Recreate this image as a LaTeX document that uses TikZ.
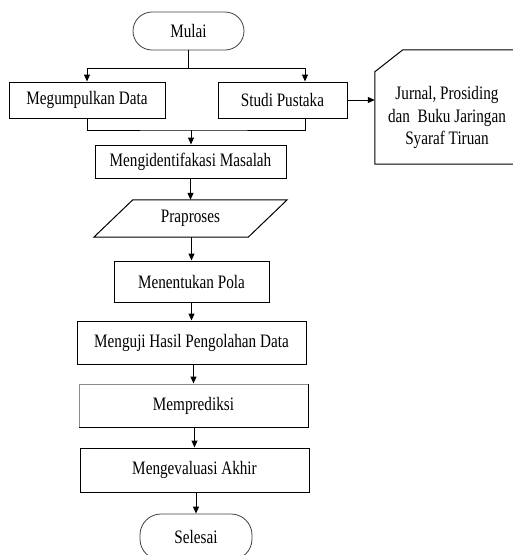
\documentclass[tikz,border=0pt]{standalone}
\usepackage{fontspec}
\setmainfont[FakeStretch=0.8]{Liberation Serif}
\usetikzlibrary{arrows.meta,calc}
\begin{document}
\begin{tikzpicture}[x=1pt,y=-1pt, font=\fontsize{19}{22.5}\selectfont,
  box/.style={draw, line width=1pt, inner sep=0pt, align=center},
  term/.style={draw=black!75, line width=0.8pt, rounded corners=19pt, inner sep=0pt},
  arr/.style={-{Triangle[length=7pt,width=6pt]}, line width=1pt},
  ln/.style={line width=1pt}]
\useasboundingbox (0,0) rectangle (513,555);
% nodes
\node[term, minimum width=111pt, minimum height=38pt] (mulai) at (188.5,31) {Mulai};
\node[box, minimum width=156pt, minimum height=36pt] (kumpul) at (87,100) {Megumpulkan Data};
\node[box, minimum width=129pt, minimum height=36pt] (studi) at (282.5,100) {Studi Pustaka};
\node[minimum width=165pt, minimum height=114pt, inner sep=0pt] (jur) at (457.5,107) {};
\node[align=center, inner sep=0pt] (jurtext) at (447,117.5) {Jurnal, Prosiding\\dan~ Buku Jaringan\\Syaraf Tiruan};
\node[box, minimum width=191pt, minimum height=33pt] (ident) at (190.5,161.5) {Mengidentifakasi Masalah};
\node[minimum width=154pt, minimum height=37pt, inner sep=0pt] (prap) at (190.5,218.5) {Praproses};
\node[box, minimum width=155pt, minimum height=41pt] (pola) at (191.5,281.5) {Menentukan Pola};
\node[box, minimum width=229pt, minimum height=43pt] (uji) at (191.5,342.5) {Menguji Hasil Pengolahan Data};
\node[box, draw=black!45, minimum width=229pt, minimum height=43pt] (pred) at (193.5,405.5) {Memprediksi};
\node[box, minimum width=229pt, minimum height=44pt] (eval) at (194.5,470) {Mengevaluasi Akhir};
\node[term, rounded corners=21pt, minimum width=112pt, minimum height=46pt] (selesai) at (196,537) {Selesai};
% shapes drawn from anchors
\draw[line width=1pt] (pred.north east) -- (pred.south east) -- (pred.south west);
\draw[line width=1pt] (jur.north east) -- ([xshift=28pt]jur.north west) -- ([yshift=-22pt]jur.north west) -- (jur.south west) -- (jur.south east);
\draw[line width=1pt] ([xshift=19.5pt]prap.north west) -- ([xshift=19.5pt]prap.north east) -- ([xshift=-19.5pt]prap.south east) -- ([xshift=-19.5pt]prap.south west) -- cycle;
% connectors
\coordinate (split) at (188.5,68);
\coordinate (sx) at (305,0);
\coordinate (join) at (191,130);
\draw[ln] (mulai.south) -- (split);
\draw[arr] (split) -| (kumpul.north);
\draw[arr] (split) -| (studi.north -| sx);
\draw[arr] (studi.east) -- (studi.east -| jur.west);
\draw[ln] (kumpul.south) |- (join) -| (studi.south -| sx);
\draw[arr] (join) -- (ident.north -| join);
\draw[arr] (ident.south -| prap.north) -- (prap.north);
\draw[arr] (prap.south -| pola.north) -- (pola.north);
\draw[arr] (pola.south -| uji.north) -- (uji.north);
\draw[arr] (uji.south -| pred.north) -- (pred.north);
\draw[arr] (pred.south -| eval.north) -- (eval.north);
\draw[arr] (eval.south -| selesai.north) -- (selesai.north);
\end{tikzpicture}
\end{document}
